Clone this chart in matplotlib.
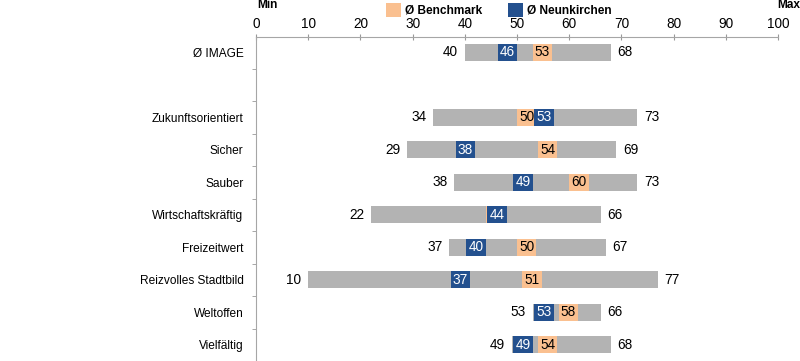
import matplotlib.pyplot as plt
from matplotlib.patches import Rectangle

plt.rcParams['font.family'] = ['Liberation Sans', 'DejaVu Sans']

# rows from top to bottom, "" is the empty spacer row
categories = ["Ø IMAGE", "", "Zukunftsorientiert", "Sicher", "Sauber",
              "Wirtschaftskräftig", "Freizeitwert", "Reizvolles Stadtbild",
              "Weltoffen", "Vielfältig"]
min_vals = [40, None, 34, 29, 38, 22, 37, 10, 53, 49]
max_vals = [68, None, 73, 69, 73, 66, 67, 77, 66, 68]
benchmark = [53, None, 50, 54, 60, 44, 50, 51, 58, 54]
neunkirchen = [46, None, 53, 38, 49, 44, 40, 37, 53, 49]
x_ticks = [0, 10, 20, 30, 40, 50, 60, 70, 80, 90, 100]

GRAY = "#b3b3b3"
ORANGE = "#fac090"
BLUE = "#23508e"
BOX_W = 3.7
BAR_H = 0.53
VFS = 9.8

fig = plt.figure(figsize=(8, 3.61), dpi=100)
ax = fig.add_axes([0.32, 0.0, 0.6525, 0.8975])

for i, cat in enumerate(categories):
    if min_vals[i] is None:
        continue
    lo, hi = min_vals[i], max_vals[i]
    ax.barh(i, hi - lo, left=lo, height=BAR_H, color=GRAY, linewidth=0, zorder=2)
    ax.text(lo - 1.3, i, str(lo), ha="right", va="center", fontsize=VFS, zorder=5)
    ax.text(hi + 1.3, i, str(hi), ha="left", va="center", fontsize=VFS, zorder=5)
    b = benchmark[i]
    n = neunkirchen[i]
    ax.add_patch(Rectangle((b, i - BAR_H / 2), BOX_W, BAR_H, facecolor=ORANGE,
                           linewidth=0, zorder=3))
    # benchmark label is hidden under the blue box when both values are equal
    if b != n:
        ax.text(b + BOX_W / 2, i, str(b), ha="center", va="center", fontsize=VFS,
                color="black", zorder=3.5)
    ax.add_patch(Rectangle((n + 0.3, i - BAR_H / 2), BOX_W, BAR_H, facecolor=BLUE,
                           linewidth=0, zorder=4))
    ax.text(n + 0.3 + BOX_W / 2, i, str(n), ha="center", va="center", fontsize=VFS,
            color="white", zorder=4.5)

ax.set_xlim(0, 100)
ax.set_ylim(9.5, -0.47)

ax.xaxis.tick_top()
ax.set_xticks(x_ticks)
ax.set_xticklabels([str(t) for t in x_ticks], fontsize=VFS)
ax.tick_params(axis="x", direction="inout", length=5, color="#999999", pad=2)

ax.set_yticks(range(len(categories)))
ax.set_yticklabels(categories, fontsize=8.6)
ax.set_yticks([k + 0.5 for k in range(len(categories) - 1)], minor=True)
ax.tick_params(axis="y", which="major", length=0, pad=9)
ax.tick_params(axis="y", which="minor", direction="out", length=3, color="#999999")

for side in ["right", "bottom"]:
    ax.spines[side].set_visible(False)
for side in ["top", "left"]:
    ax.spines[side].set_color("#a6a6a6")

# Min / Max and the legend above the axis
ax.text(0.3, -1.45, "Min", ha="left", va="center", fontsize=8.6, fontweight="bold")
ax.text(99.8, -1.45, "Max", ha="left", va="center", fontsize=8.6, fontweight="bold",
        clip_on=False)
fig.patches.append(Rectangle((386 / 800, 1 - 17 / 361), 15 / 800, 14 / 361,
                             facecolor=ORANGE, linewidth=0, transform=fig.transFigure))
fig.text(405 / 800, 1 - 10 / 361, "Ø Benchmark", ha="left", va="center",
         fontsize=8.6, fontweight="bold")
fig.patches.append(Rectangle((508 / 800, 1 - 17 / 361), 15 / 800, 14 / 361,
                             facecolor=BLUE, linewidth=0, transform=fig.transFigure))
fig.text(527 / 800, 1 - 10 / 361, "Ø Neunkirchen", ha="left", va="center",
         fontsize=8.6, fontweight="bold")

fig.savefig("out.png", dpi=100)
